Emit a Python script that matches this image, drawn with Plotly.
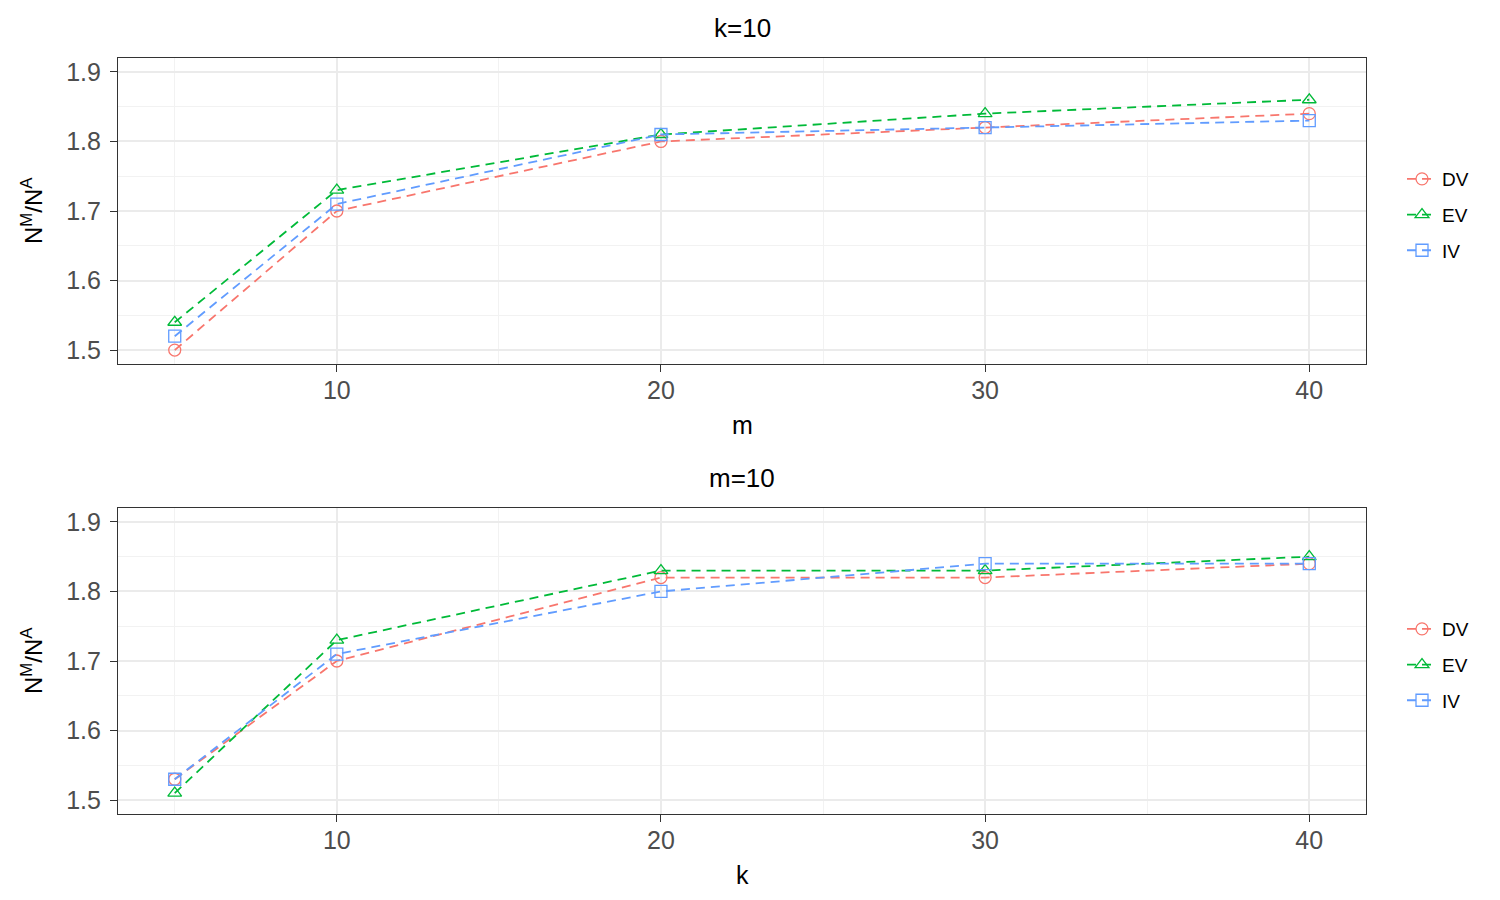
import plotly.graph_objects as go

x_vals = [5, 10, 20, 30, 40]
series = ["DV", "EV", "IV"]

# top panel: k=10, x = m
top_DV = [1.50, 1.70, 1.80, 1.82, 1.84]
top_EV = [1.54, 1.73, 1.81, 1.84, 1.86]
top_IV = [1.52, 1.71, 1.81, 1.82, 1.83]

# bottom panel: m=10, x = k
bot_DV = [1.53, 1.70, 1.82, 1.82, 1.84]
bot_EV = [1.51, 1.73, 1.83, 1.83, 1.85]
bot_IV = [1.53, 1.71, 1.80, 1.84, 1.84]

x_ticks = [10, 20, 30, 40]
y_ticks = [1.5, 1.6, 1.7, 1.8, 1.9]

colors = {"DV": "#F8766D", "EV": "#00BA38", "IV": "#619CFF"}
symbols = {"DV": "circle-open", "EV": "triangle-up-open", "IV": "square-open"}

W, H = 1500, 900
FONT = "Liberation Sans, Arial, sans-serif"

fig = go.Figure()

top = {"DV": top_DV, "EV": top_EV, "IV": top_IV}
bot = {"DV": bot_DV, "EV": bot_EV, "IV": bot_IV}

for panel, data, xa, ya, leg in [(0, top, "x", "y", "legend"), (1, bot, "x2", "y2", "legend2")]:
    for s in series:
        fig.add_trace(go.Scatter(
            x=x_vals, y=data[s], name=s, mode="lines+markers",
            xaxis=xa, yaxis=ya, legend=leg, legendgroup=f"{s}{panel}",
            line=dict(color=colors[s], width=1.8, dash="9px,6px"),
            marker=dict(symbol=symbols[s], size=12, color=colors[s],
                        line=dict(width=1.3, color=colors[s])),
        ))

xdom = [118 / W, 1366 / W]
ydom_top = [1 - 364 / H, 1 - 58 / H]
ydom_bot = [1 - 814 / H, 1 - 508 / H]

TICKFONT = dict(size=25, color="#4D4D4D", family=FONT)

def xaxis(anchor):
    return dict(domain=xdom, anchor=anchor, range=[3.25, 41.75],
                tickvals=x_ticks, ticks="outside", ticklen=7, tickwidth=1.2,
                tickcolor="#333333", tickfont=TICKFONT, ticklabelstandoff=-3,
                showgrid=True, gridcolor="#EBEBEB", gridwidth=1.6,
                minor=dict(tickvals=[5, 15, 25, 35], showgrid=True, gridcolor="#F2F2F2", gridwidth=0.8),
                showline=True, linecolor="#333333", linewidth=1.2, mirror=True, zeroline=False)

def yaxis(anchor, dom):
    return dict(domain=dom, anchor=anchor, range=[1.48, 1.92],
                tickvals=y_ticks, ticktext=[f"{v:.1f}" for v in y_ticks],
                ticks="outside", ticklen=7, tickwidth=1.2,
                tickcolor="#333333", tickfont=TICKFONT, ticklabelstandoff=4,
                showgrid=True, gridcolor="#EBEBEB", gridwidth=1.6,
                minor=dict(tickvals=[1.55, 1.65, 1.75, 1.85], showgrid=True, gridcolor="#F2F2F2", gridwidth=0.8),
                showline=True, linecolor="#333333", linewidth=1.2, mirror=True, zeroline=False)

legend_style = dict(x=1402 / W, xanchor="left", yanchor="middle",
                    font=dict(size=19, color="black", family=FONT),
                    bgcolor="rgba(0,0,0,0)", tracegroupgap=8, itemwidth=30)

fig.update_layout(
    width=W, height=H,
    margin=dict(l=0, r=0, t=0, b=0),
    paper_bgcolor="white", plot_bgcolor="white",
    font=dict(family=FONT),
    xaxis=xaxis("y"), yaxis=yaxis("x", ydom_top),
    xaxis2=xaxis("y2"), yaxis2=yaxis("x2", ydom_bot),
    legend=dict(y=1 - 215 / H, **legend_style),
    legend2=dict(y=1 - 665 / H, **legend_style),
)

xc = (xdom[0] + xdom[1]) / 2
ann = []
for txt, ypx in [("k=10", 28), ("m=10", 478)]:
    ann.append(dict(text=txt, x=xc, y=1 - ypx / H, xref="paper", yref="paper",
                    showarrow=False, xanchor="center", yanchor="middle",
                    font=dict(size=26, color="black", family=FONT)))
for txt, ypx in [("m", 425), ("k", 875)]:
    ann.append(dict(text=txt, x=xc, y=1 - ypx / H, xref="paper", yref="paper",
                    showarrow=False, xanchor="center", yanchor="middle",
                    font=dict(size=25, color="black", family=FONT)))
for ypx in [211, 661]:
    ann.append(dict(text="N<sup>M</sup>/N<sup>A</sup>", x=32 / W, y=1 - ypx / H,
                    xref="paper", yref="paper", showarrow=False, textangle=-90,
                    xanchor="center", yanchor="middle",
                    font=dict(size=24, color="black", family=FONT)))
fig.update_layout(annotations=ann)

fig.write_html("out.html")
